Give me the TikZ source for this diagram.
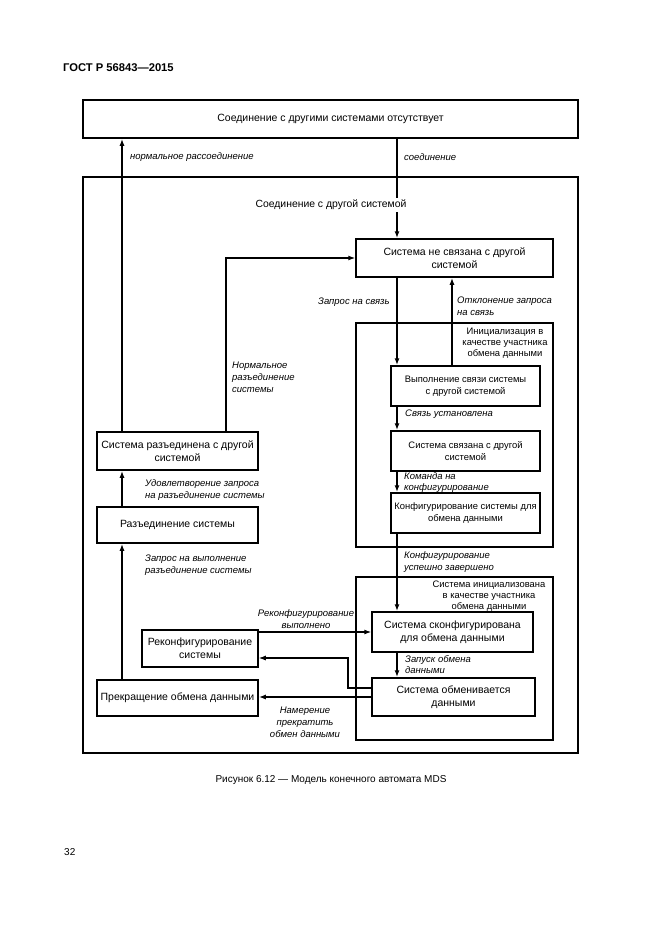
\documentclass[tikz,border=0pt]{standalone}
\usepackage{fontspec}
\setmainfont{Liberation Sans}
\usetikzlibrary{arrows.meta}
\begin{document}
\begin{tikzpicture}[x=1pt,y=1pt,
    box/.style={draw,line width=1.5pt,align=center,inner sep=0pt,font=\fontsize{10.5}{13}\selectfont},
    sbox/.style={box,font=\fontsize{9.4}{12.5}\selectfont},
    lbl/.style={inner sep=0pt,align=left,font=\fontsize{9.5}{12}\selectfont\itshape},
    tlbl/.style={lbl,font=\fontsize{9.5}{11}\selectfont\itshape},
    glbl/.style={inner sep=0pt,align=center,font=\fontsize{9.4}{11}\selectfont},
    arr/.style={line width=1.5pt,-{Latex[length=7pt,width=5pt]}},
    thin/.style={line width=1.2pt,-{Latex[length=7pt,width=5pt]}}]
    \useasboundingbox (0,0) rectangle (661,-935);
    \node[anchor=west,inner sep=0pt,font=\fontsize{11.2}{13}\selectfont\bfseries] (hdr) at (63,-68) {ГОСТ Р 56843—2015};
    % frames
    \node[box,minimum width=495pt,minimum height=38pt] (top) at (330.5,-119) {Соединение с другими системами отсутствует};
    \draw [line width=2pt] (83,-177) rectangle (578,-753);
    \node[draw,line width=1.3pt,minimum width=197pt,minimum height=224pt,inner sep=0pt] (grpa) at (454.5,-435) {};
    \node[draw,line width=1.3pt,minimum width=197pt,minimum height=163pt,inner sep=0pt] (grpb) at (454.5,-658.5) {};
    % right column
    \node[box,minimum width=197pt,minimum height=38pt] (nesv) at (454.5,-258) {Система не связана с другой\\системой};
    \node[sbox,minimum width=149pt,minimum height=40pt] (vyp) at (465.5,-386) {Выполнение связи системы\\с другой системой};
    \node[sbox,minimum width=149pt,minimum height=40pt] (svz) at (465.5,-451) {Система связана с другой\\системой};
    \node[sbox,minimum width=149pt,minimum height=40pt] (konf) at (465.5,-513) {Конфигурирование системы для\\обмена данными};
    \node[box,minimum width=161pt,minimum height=40pt] (skonf) at (452.5,-632) {Система сконфигурирована\\для обмена данными};
    \node[box,minimum width=163pt,minimum height=38pt] (obm) at (453.5,-697) {Система обменивается\\данными};
    % left column
    \node[box,minimum width=161pt,minimum height=38pt] (razsys) at (177.5,-451) {Система разъединена с другой\\системой};
    \node[box,minimum width=161pt,minimum height=36pt] (razed) at (177.5,-525) {Разъединение системы};
    \node[box,minimum width=116pt,minimum height=37pt] (rekon) at (200,-648.5) {Реконфигурирование\\системы};
    \node[box,minimum width=161pt,minimum height=36pt] (prekr) at (177.5,-698) {Прекращение обмена данными};
    \coordinate (lx) at (122,0);
    \coordinate (sp) at (397,0);
    \coordinate (rx) at (452,0);
    \coordinate (jx) at (226,0);
    \coordinate (kn) at (348,-658);
    % connectors
    \draw [arr] (razsys.north -| lx) -- (top.south -| lx);
    \draw [arr] (razed.north -| lx) -- (razsys.south -| lx);
    \draw [arr] (prekr.north -| lx) -- (razed.south -| lx);
    \draw [arr] (top.south -| sp) -- (nesv.north -| sp);
    \draw [thin] (razsys.north -| jx) |- (nesv.west);
    \draw [arr] (nesv.south -| sp) -- (vyp.north -| sp);
    \draw [arr] (vyp.north -| rx) -- (nesv.south -| rx);
    \draw [arr] (vyp.south -| sp) -- (svz.north -| sp);
    \draw [arr] (svz.south -| sp) -- (konf.north -| sp);
    \draw [arr] (konf.south -| sp) -- (skonf.north -| sp);
    \draw [arr] (skonf.south -| sp) -- (obm.north -| sp);
    \draw [thin] (rekon.east |- skonf.west) -- (skonf.west);
    \draw [thin] ([yshift=9pt]obm.west) -| (kn) -- (rekon.east |- kn);
    \draw [arr] (obm.west) -- (prekr.east |- obm.west);
    % labels
    \node[lbl,anchor=west] (l1) at (130,-157) {нормальное рассоединение};
    \node[lbl,anchor=west] (l2) at (404,-157) {соединение};
    \node[fill=white,inner sep=2pt,font=\fontsize{10.4}{12}\selectfont] (l3) at (331,-205) {Соединение с другой системой};
    \node[lbl,anchor=north west] (l4) at (232,-362) {Нормальное\\разъединение\\системы};
    \node[lbl,anchor=west] (l5) at (318,-302) {Запрос на связь};
    \node[lbl,anchor=north west] (l6) at (457,-297) {Отклонение запроса\\на связь};
    \node[glbl] (l7) at (505,-343) {Инициализация в\\качестве участника\\обмена данными};
    \node[lbl,anchor=north west] (l8) at (405,-410) {Связь установлена};
    \node[tlbl,anchor=north west] (l9) at (404,-472) {Команда на\\конфигурирование};
    \node[lbl,anchor=north west] (l10) at (404,-551) {Конфигурирование\\успешно завершено};
    \node[glbl] (l11) at (489,-596) {Система инициализована\\в качестве участника\\обмена данными};
    \node[lbl,align=center] (l12) at (306,-619) {Реконфигурирование\\выполнено};
    \node[tlbl,anchor=north west] (l13) at (405,-655) {Запуск обмена\\данными};
    \node[lbl,align=center] (l14) at (305,-722) {Намерение\\прекратить\\обмен данными};
    \node[lbl,anchor=north west] (l15) at (145,-479) {Удовлетворение запроса\\на разъединение системы};
    \node[lbl,anchor=north west] (l16) at (145,-555) {Запрос на выполнение\\разъединение системы};
    \node[inner sep=0pt,font=\fontsize{10}{12}\selectfont] (cap) at (331,-780) {Рисунок 6.12 — Модель конечного автомата MDS};
    \node[anchor=west,inner sep=0pt,font=\fontsize{10}{12}\selectfont] (pg) at (64,-852) {32};
\end{tikzpicture}
\end{document}
